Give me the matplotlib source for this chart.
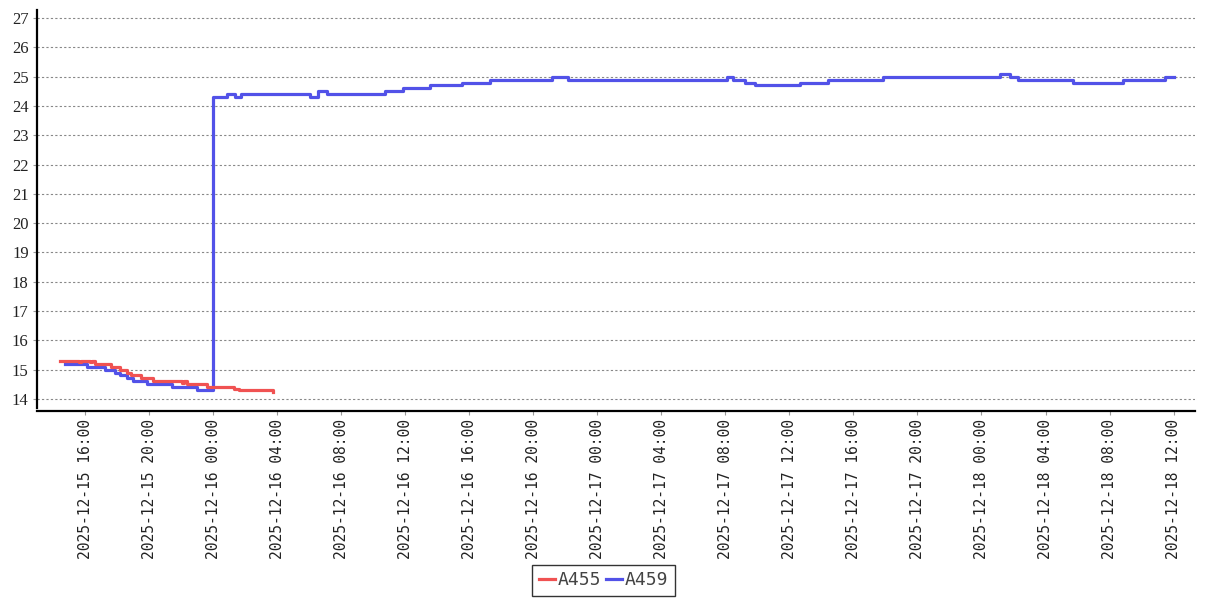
import pandas as pd
import matplotlib
matplotlib.use("Agg")
import matplotlib.pyplot as plt
import matplotlib.dates as mdates

plt.rcParams["font.family"] = "DejaVu Sans Mono"

# A455 readings
a455_time = ["2025-12-15 14:27", "2025-12-15 15:36", "2025-12-15 15:45", "2025-12-15 16:18",
             "2025-12-15 16:27", "2025-12-15 16:36", "2025-12-15 17:36", "2025-12-15 18:12",
             "2025-12-15 18:36", "2025-12-15 18:51", "2025-12-15 19:30", "2025-12-15 20:15",
             "2025-12-15 22:03", "2025-12-15 22:09", "2025-12-15 22:21", "2025-12-15 23:36",
             "2025-12-16 01:18", "2025-12-16 01:36", "2025-12-16 03:45"]
a455_val = [15.3, 15.25, 15.3, 15.25, 15.3, 15.2, 15.1, 15.0, 14.9, 14.8, 14.7, 14.6,
            14.55, 14.6, 14.5, 14.4, 14.35, 14.3, 14.25]

# A459 readings
a459_time = ["2025-12-15 14:45", "2025-12-15 16:06", "2025-12-15 17:15", "2025-12-15 17:54",
             "2025-12-15 18:12", "2025-12-15 18:36", "2025-12-15 19:00", "2025-12-15 19:51",
             "2025-12-15 21:24", "2025-12-15 23:00", "2025-12-16 00:00", "2025-12-16 00:52",
             "2025-12-16 01:22", "2025-12-16 01:45", "2025-12-16 06:03", "2025-12-16 06:33",
             "2025-12-16 07:06", "2025-12-16 10:44", "2025-12-16 11:52", "2025-12-16 13:33",
             "2025-12-16 15:33", "2025-12-16 17:18", "2025-12-16 21:10", "2025-12-16 22:10",
             "2025-12-17 08:05", "2025-12-17 08:27", "2025-12-17 09:12", "2025-12-17 09:51",
             "2025-12-17 12:40", "2025-12-17 14:24", "2025-12-17 17:51", "2025-12-18 01:09",
             "2025-12-18 01:47", "2025-12-18 02:17", "2025-12-18 05:42", "2025-12-18 08:50",
             "2025-12-18 11:27", "2025-12-18 12:00"]
a459_val = [15.2, 15.1, 15.0, 14.9, 14.8, 14.7, 14.6, 14.5, 14.4, 14.3, 24.3, 24.4,
            24.3, 24.4, 24.3, 24.5, 24.4, 24.5, 24.6, 24.7, 24.8, 24.9, 25.0, 24.9,
            25.0, 24.9, 24.8, 24.7, 24.8, 24.9, 25.0, 25.1, 25.0, 24.9, 24.8, 24.9,
            25.0, 25.0]

y_ticks = list(range(14, 28))

t455 = pd.to_datetime(a455_time)
t459 = pd.to_datetime(a459_time)

fig = plt.figure(figsize=(12.07, 6), dpi=100)
ax = fig.add_axes([0.0307, 0.32, 0.9593, 0.663])

ax.step(t459, a459_val, where="post", color="#5252e8", lw=2.3, label="A459", zorder=2)
ax.step(t455, a455_val, where="post", color="#f05252", lw=2.3, label="A455", zorder=3)

ax.set_xlim(pd.Timestamp("2025-12-15 13:00"), pd.Timestamp("2025-12-18 13:20"))
ax.set_ylim(13.69, 27.27)
ax.set_yticks(y_ticks, labels=[str(v) for v in y_ticks],
              fontfamily="Liberation Serif", fontsize=12, color="#222222")

ax.xaxis.set_major_locator(mdates.HourLocator(byhour=[0, 4, 8, 12, 16, 20]))
ax.xaxis.set_major_formatter(mdates.DateFormatter("%Y-%m-%d %H:%M"))
ax.tick_params(axis="x", labelrotation=90, labelsize=10.5, labelcolor="#222222")

ax.grid(axis="y", color="#888888", linestyle=(0, (2, 2)), linewidth=0.8)
ax.set_axisbelow(True)
ax.tick_params(axis="both", length=3, color="#999999", pad=3)

for s in ["top", "right"]:
    ax.spines[s].set_visible(False)
ax.spines["left"].set_linewidth(1.6)
ax.spines["bottom"].set_linewidth(1.6)
ax.spines["bottom"].set_position(("outward", 2.2))

handles, labels = ax.get_legend_handles_labels()
leg = fig.legend(handles[::-1], labels[::-1], loc="lower center", bbox_to_anchor=(0.5, -0.008),
                 ncol=2, frameon=True, fancybox=False, edgecolor="black",
                 handlelength=0.9, handletextpad=0.15, columnspacing=0.25,
                 borderpad=0.35, prop={"family": "DejaVu Sans Mono", "size": 13})
leg.get_frame().set_linewidth(1.0)
for t in leg.get_texts():
    t.set_color("#444444")

fig.savefig("out.png", dpi=100)
